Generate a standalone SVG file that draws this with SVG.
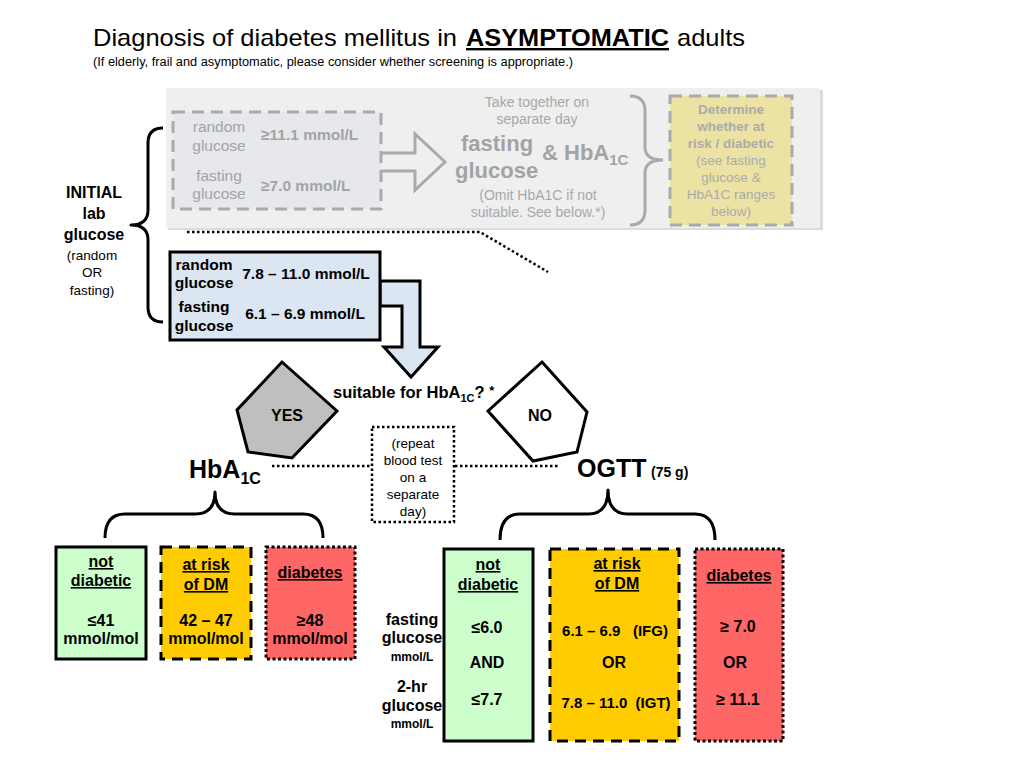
<svg xmlns="http://www.w3.org/2000/svg" width="1024" height="768" viewBox="0 0 1024 768">
<style>
text{font-family:"Liberation Sans",Arial,sans-serif;fill:#000}
.b{font-weight:bold}
.c{text-anchor:middle}
.g{fill:#a3a3a3}
.gy{fill:#ababab}
.u{text-decoration:underline}
.t15{font-size:15.5px}
.t16{font-size:16px}
.t13{font-size:13.5px}
.box{stroke:#000;stroke-width:3}
.solid{fill:#ccffcc}
.dash{fill:#ffcc00;stroke-dasharray:11 7}
.dot{fill:#ff6666;stroke-dasharray:3 2.5}
.brace{fill:none;stroke:#000;stroke-width:3;stroke-linejoin:round}
.dotted{fill:none;stroke:#000;stroke-width:2.5;stroke-dasharray:2.5 2.5}
</style>
<rect width="1024" height="768" fill="#fff"/>

<g id="title">
<text x="93" y="46" font-size="24" textLength="364" lengthAdjust="spacingAndGlyphs">Diagnosis of diabetes mellitus in</text>
<text x="466" y="46" font-size="24" class="b u" textLength="203" lengthAdjust="spacingAndGlyphs">ASYMPTOMATIC</text>
<text x="677" y="46" font-size="24" textLength="68" lengthAdjust="spacingAndGlyphs">adults</text>
<text x="93" y="66" font-size="12.5" textLength="480" lengthAdjust="spacingAndGlyphs">(If elderly, frail and asymptomatic, please consider whether screening is appropriate.)</text>
</g>

<g id="gray-panel">
<rect x="168" y="90" width="655" height="140" fill="#dcdcdc"/>
<rect x="166" y="88" width="654" height="140" fill="#efefef"/>
</g>

<g id="gray-criteria">
<rect x="173" y="112" width="208" height="97" fill="#e6e8ec" stroke="#aaa" stroke-width="3" stroke-dasharray="12 7"/>
<text x="219" y="132" class="c t15 g">random</text>
<text x="219" y="151" class="c t15 g">glucose</text>
<text x="219" y="181" class="c t15 g">fasting</text>
<text x="219" y="199" class="c t15 g">glucose</text>
<text x="261" y="140" class="b t15 g">≥11.1 mmol/L</text>
<text x="261" y="191" class="b t15 g">≥7.0 mmol/L</text>
</g>

<g id="gray-repeat">
<text x="537" y="107" class="c" font-size="14" fill="#a8a8a8" style="fill:#a8a8a8">Take together on</text>
<text x="537" y="124" class="c" font-size="14" style="fill:#a8a8a8">separate day</text>
<text x="461" y="151" class="b g" font-size="22">fasting</text>
<text x="455" y="178" class="b g" font-size="22">glucose</text>
<text x="542" y="160" class="b g" font-size="22">&amp; HbA<tspan dy="5" font-size="15">1C</tspan></text>
<text x="538" y="200" class="c" font-size="14" style="fill:#a8a8a8">(Omit HbA1C if not</text>
<text x="538" y="217" class="c" font-size="14" style="fill:#a8a8a8">suitable. See below.*)</text>
</g>

<g id="gray-determine">
<rect x="670" y="96" width="122" height="129" fill="#ece2a4" stroke="#aaa" stroke-width="3" stroke-dasharray="12 7"/>
<text x="731" y="114" class="c b gy" font-size="13.5">Determine</text>
<text x="731" y="131" class="c b gy" font-size="13.5">whether at</text>
<text x="731" y="148" class="c b gy" font-size="13.5">risk / diabetic</text>
<text x="731" y="165" class="c gy" font-size="13.5">(see fasting</text>
<text x="731" y="182" class="c gy" font-size="13.5">glucose &amp;</text>
<text x="731" y="199" class="c gy" font-size="13.5">HbA1C ranges</text>
<text x="731" y="216" class="c gy" font-size="13.5">below)</text>
</g>

<g id="initial-label">
<text x="94" y="198" class="c b" font-size="16">INITIAL</text>
<text x="94" y="219" class="c b" font-size="16">lab</text>
<text x="94" y="240" class="c b" font-size="16">glucose</text>
<text x="92" y="260" class="c t13">(random</text>
<text x="92" y="277" class="c t13">OR</text>
<text x="92" y="295" class="c t13">fasting)</text>
</g>

<g id="connectors">
<path d="M381,153 L415,153 L415,134 L445,162 L415,190 L415,171 L381,171" fill="none" stroke="#aaa" stroke-width="3"/>
<path d="M630,96 Q645,96 645,111 L645,147 Q645,160 663,160 Q645,160 645,173 L645,210 Q645,225 630,225" fill="none" stroke="#aaa" stroke-width="3"/>
<path d="M163,128 Q148,128 148,143 L148,210 Q148,225 131,225 Q148,225 148,240 L148,307 Q148,322 163,322" class="brace"/>
<path d="M187,232 L480,232 L548,272" class="dotted"/>
<path d="M380,281 L420,281 L420,347 L438,347 L411,377 L384,347 L402,347 L402,306 L380,306 Z" fill="#dce6f2" stroke="#000" stroke-width="3" stroke-linejoin="miter"/>
<path d="M272,466 L372,466 M455,466 L560,466" class="dotted"/>
<path d="M105,538 Q105,514 125,514 L195,514 Q215,514 215,492 Q215,514 235,514 L303,514 Q323,514 323,538" class="brace"/>
<path d="M500,540 Q500,514 520,514 L588,514 Q608,514 608,490 Q608,514 628,514 L695,514 Q715,514 715,540" class="brace"/>
</g>

<g id="blue-box">
<rect x="170" y="252" width="210" height="88" fill="#dce6f2" class="box"/>
<text x="204" y="270" class="c b t15">random</text>
<text x="204" y="288" class="c b t15">glucose</text>
<text x="204" y="312" class="c b t15">fasting</text>
<text x="204" y="331" class="c b t15">glucose</text>
<text x="306" y="279" class="c b t15">7.8 – 11.0 mmol/L</text>
<text x="305" y="319" class="c b t15">6.1 – 6.9 mmol/L</text>
</g>

<g id="question">
<text x="333" y="398" class="b" font-size="16.5">suitable for HbA<tspan dy="4" font-size="11">1C</tspan><tspan dy="-4">? </tspan><tspan font-size="13" dy="-3">*</tspan></text>
</g>

<g id="yes">
<polygon points="282,362 337,411 292,458 248,452 237,410" fill="#bfbfbf" stroke="#000" stroke-width="3" stroke-linejoin="miter"/>
<text x="287" y="421" class="c b t16">YES</text>
</g>

<g id="no">
<polygon points="542,362 587,412 577,452 533,461 488,411" fill="#fff" stroke="#000" stroke-width="3" stroke-linejoin="miter"/>
<text x="540" y="421" class="c b t16">NO</text>
</g>

<g id="repeat">
<rect x="372" y="427" width="82" height="95" fill="#fff" class="dotted"/>
<text x="413" y="448" class="c t13">(repeat</text>
<text x="413" y="465" class="c t13">blood test</text>
<text x="413" y="482" class="c t13">on a</text>
<text x="413" y="499" class="c t13">separate</text>
<text x="413" y="516" class="c t13">day)</text>
</g>

<g id="hba1c-label">
<text x="189" y="478" class="b" font-size="25">HbA<tspan dy="6" font-size="16">1C</tspan></text>
</g>
<g id="ogtt-label">
<text x="577" y="477" class="b" font-size="25">OGTT</text>
<text x="651" y="477" class="b" font-size="14">(75 g)</text>
</g>

<g id="hba1c-not">
<rect x="56" y="547" width="90" height="112" class="box solid"/>
<text x="101" y="567" class="c b t16 u">not</text>
<text x="101" y="586" class="c b t16 u">diabetic</text>
<text x="101" y="626" class="c b t16">≤41</text>
<text x="101" y="644" class="c b t16">mmol/mol</text>
</g>
<g id="hba1c-risk">
<rect x="161" y="547" width="90" height="112" class="box dash"/>
<text x="206" y="570" class="c b t16 u">at risk</text>
<text x="206" y="590" class="c b t16 u">of DM</text>
<text x="206" y="626" class="c b t16">42 – 47</text>
<text x="206" y="644" class="c b t16">mmol/mol</text>
</g>
<g id="hba1c-diabetes">
<rect x="266" y="547" width="89" height="112" class="box dot"/>
<text x="310" y="578" class="c b t16 u">diabetes</text>
<text x="310" y="626" class="c b t16">≥48</text>
<text x="310" y="644" class="c b t16">mmol/mol</text>
</g>

<g id="ogtt-rowlabels">
<text x="412" y="625" class="c b t16">fasting</text>
<text x="412" y="643" class="c b t16">glucose</text>
<text x="412" y="661" class="c b" font-size="12">mmol/L</text>
<text x="412" y="692" class="c b t16">2-hr</text>
<text x="412" y="711" class="c b t16">glucose</text>
<text x="412" y="728" class="c b" font-size="12">mmol/L</text>
</g>

<g id="ogtt-not">
<rect x="444" y="549" width="89" height="192" class="box solid"/>
<text x="488" y="570" class="c b t16 u">not</text>
<text x="488" y="590" class="c b t16 u">diabetic</text>
<text x="487" y="633" class="c b t16">≤6.0</text>
<text x="487" y="668" class="c b t16">AND</text>
<text x="487" y="705" class="c b t16">≤7.7</text>
</g>
<g id="ogtt-risk">
<rect x="550" y="549" width="129" height="192" class="box dash"/>
<text x="617" y="569" class="c b t16 u">at risk</text>
<text x="617" y="589" class="c b t16 u">of DM</text>
<text x="615" y="636" class="c b" font-size="15">6.1 – 6.9&#160;&#160;&#160;(IFG)</text>
<text x="614" y="668" class="c b t16">OR</text>
<text x="616" y="708" class="c b" font-size="15">7.8 – 11.0&#160;&#160;(IGT)</text>
</g>
<g id="ogtt-diabetes">
<rect x="695" y="549" width="88" height="192" class="box dot"/>
<text x="739" y="581" class="c b t16 u">diabetes</text>
<text x="738" y="632" class="c b t16">≥ 7.0</text>
<text x="735" y="668" class="c b t16">OR</text>
<text x="738" y="705" class="c b t16">≥ 11.1</text>
</g>
</svg>
